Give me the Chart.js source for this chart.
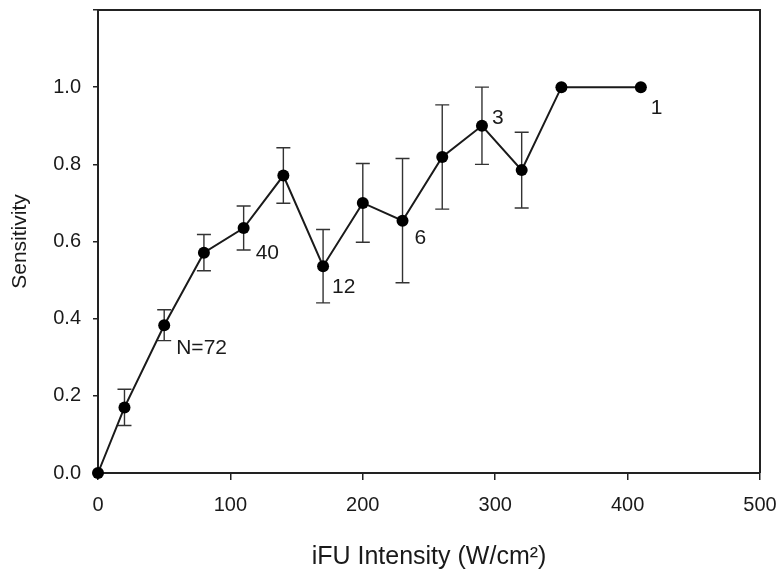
<!DOCTYPE html>
<html>
<head>
<meta charset="utf-8">
<script src="https://cdn.jsdelivr.net/npm/chart.js@4"></script>
<style>
  body { margin: 0; background: #fff; }
</style>
</head>
<body>
<canvas id="grafica" width="783" height="579"></canvas>
<script>
// datos
const intensidad = [0, 20, 50, 80, 110, 140, 170, 200, 230, 260, 290, 320, 350, 410];
const sensibilidad = [0, 0.17, 0.383, 0.571, 0.635, 0.771, 0.536, 0.700, 0.654, 0.819, 0.900, 0.785, 1.0, 1.0];
const errores = [0, 0.047, 0.040, 0.047, 0.057, 0.072, 0.095, 0.102, 0.161, 0.135, 0.100, 0.098, 0, 0];
const etiquetasN = ['', '', 'N=72', '', '40', '', '12', '', '6', '', '3', '', '', '1'];
const xTicks = [0, 100, 200, 300, 400, 500];
const yTicks = [0, 0.2, 0.4, 0.6, 0.8, 1.0, 1.2];

const fuente = 'Arial, "Liberation Sans", Helvetica, sans-serif';
const tinta = '#1a1a1a';

// desplazamientos de las etiquetas N respecto al punto (px)
const offsetsN = {2: [12, 23], 4: [12, 25], 6: [9, 21], 8: [12, 18], 10: [10, -8], 13: [10, 21]};

const puntos = intensidad.map((x, i) => ({x: x, y: sensibilidad[i]}));

const marcoYErrores = {
    id: 'marcoYErrores',
    beforeDatasetsDraw(chart) {
        const {ctx, chartArea: a, scales: {x, y}} = chart;
        ctx.save();
        // marco superior y derecho
        ctx.strokeStyle = '#222';
        ctx.lineWidth = 2;
        ctx.beginPath();
        ctx.moveTo(a.left, a.top);
        ctx.lineTo(a.right, a.top);
        ctx.lineTo(a.right, a.bottom);
        ctx.stroke();
        // barras de error
        ctx.strokeStyle = '#333';
        ctx.lineWidth = 1.4;
        intensidad.forEach((v, i) => {
            if (!errores[i]) return;
            const px = x.getPixelForValue(v);
            const top = y.getPixelForValue(sensibilidad[i] + errores[i]);
            const bot = y.getPixelForValue(sensibilidad[i] - errores[i]);
            ctx.beginPath();
            ctx.moveTo(px, top); ctx.lineTo(px, bot);
            ctx.moveTo(px - 7, top); ctx.lineTo(px + 7, top);
            ctx.moveTo(px - 7, bot); ctx.lineTo(px + 7, bot);
            ctx.stroke();
        });
        ctx.restore();
    },
    afterDatasetsDraw(chart) {
        const {ctx, scales: {x, y}} = chart;
        ctx.save();
        ctx.fillStyle = tinta;
        ctx.font = '21px ' + fuente;
        ctx.textAlign = 'left';
        ctx.textBaseline = 'middle';
        etiquetasN.forEach((t, i) => {
            if (!t) return;
            const off = offsetsN[i] || [10, 20];
            ctx.fillText(t, x.getPixelForValue(intensidad[i]) + off[0], y.getPixelForValue(sensibilidad[i]) + off[1]);
        });
        ctx.restore();
    }
};

const ctx = document.getElementById('grafica').getContext('2d');
new Chart(ctx, {
    type: 'line',
    data: {
        datasets: [{
            data: puntos,
            borderColor: tinta,
            borderWidth: 2,
            backgroundColor: '#000',
            pointBackgroundColor: '#000',
            pointBorderColor: '#000',
            pointRadius: 6,
            pointBorderWidth: 0,
            tension: 0,
            clip: false
        }]
    },
    options: {
        responsive: false,
        animation: false,
        layout: { padding: { top: 10, right: 23, left: 0, bottom: 0 } },
        plugins: { legend: { display: false }, tooltip: { enabled: false } },
        scales: {
            x: {
                type: 'linear',
                min: 0,
                max: 500,
                afterBuildTicks: s => { s.ticks = xTicks.map(v => ({value: v})); },
                afterFit: s => { s.height = 106; s.paddingLeft = 0; s.paddingRight = 0; },
                grid: { drawOnChartArea: false, drawTicks: true, tickLength: 7, color: '#222', lineWidth: 1.5 },
                border: { display: true, color: '#222', width: 2 },
                ticks: { color: tinta, font: { family: fuente, size: 20 }, padding: 13, maxRotation: 0 },
                title: { display: true, text: 'iFU Intensity (W/cm²)', color: tinta, font: { family: fuente, size: 25 }, padding: { top: 4, bottom: 7 } }
            },
            y: {
                type: 'linear',
                min: 0,
                max: 1.2,
                afterBuildTicks: s => { s.ticks = yTicks.map(v => ({value: v})); },
                afterFit: s => { s.width = 98; s.paddingTop = 0; s.paddingBottom = 0; },
                grid: { drawOnChartArea: false, drawTicks: true, tickLength: 5, color: '#222', lineWidth: 1.5 },
                border: { display: true, color: '#222', width: 2 },
                ticks: {
                    color: tinta,
                    font: { family: fuente, size: 20 },
                    padding: 12,
                    callback: v => (Math.abs(v - 1.2) < 1e-9 ? '' : v.toFixed(1))
                },
                title: { display: true, text: 'Sensitivity', color: tinta, font: { family: fuente, size: 21 }, padding: { top: 8, bottom: 4 } }
            }
        }
    },
    plugins: [marcoYErrores]
});
</script>
</body>
</html>
